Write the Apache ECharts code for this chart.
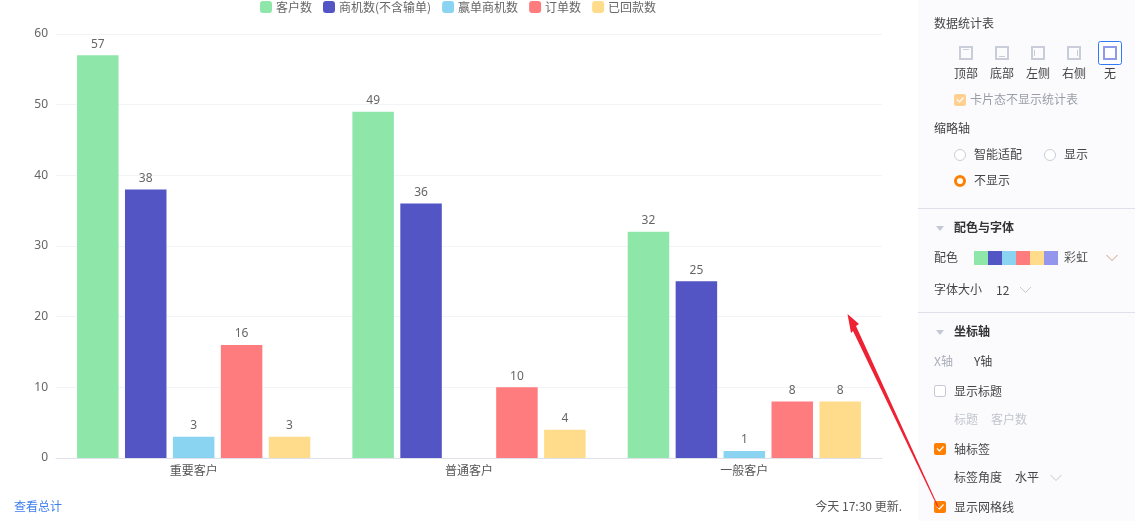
<!DOCTYPE html>
<html><head><meta charset="utf-8">
<style>html,body{margin:0;padding:0;background:#fff}#c{width:1135px;height:521px}</style>
<script src="https://cdn.jsdelivr.net/npm/echarts@6/dist/echarts.min.js"></script>
</head><body><div id="c"></div>
<script>
const categories = ['重要客户','普通客户','一般客户'];
const seriesNames = ['客户数','商机数(不含输单)','赢单商机数','订单数','已回款数'];
const customers = [57,49,32];
const opportunities = [38,36,25];
const wonOpportunities = [3,null,1];
const orders = [16,10,8];
const paidOrders = [3,4,8];
const seriesColors = ['#8EE6A8','#5355C5','#8AD4F2','#FF7C7E','#FFDC8C'];
const paletteColors = ['#8EE6A8','#5355C5','#8AD4F2','#FF7C7E','#FFDC8C','#9495EC'];
const yMax = 60, yInterval = 10;

const FONT = '"Noto Sans CJK SC","Noto Sans",sans-serif';
const allValues = [customers,opportunities,wonOpportunities,orders,paidOrders];
const g = [];
const t = (x,y,text,color,opt={}) => g.push({type:'text',x,y,silent:true,z:5,style:Object.assign({text,fill:color||'#555',font:`${opt.weight||'normal'} ${opt.size||12}px ${FONT}`,align:opt.align||'left',verticalAlign:'middle'})});
const r = (x,y,w,h,fill,stroke,rad,lw) => g.push({type:'rect',silent:true,z:4,shape:{x,y,width:w,height:h,r:rad||0},style:{fill:fill||'transparent',stroke:stroke||null,lineWidth:lw||1}});
const line = (pts,color,lw) => g.push({type:'polyline',silent:true,z:5,shape:{points:pts},style:{stroke:color,lineWidth:lw||1,fill:null}});
const circle = (x,y,rr,fill,stroke,lw) => g.push({type:'circle',silent:true,z:5,shape:{cx:x,cy:y,r:rr},style:{fill,stroke,lineWidth:lw||1}});
const chevron = (x,y,c) => line([[x-5.5,y-3],[x,y+2.5],[x+5.5,y-3]],c||'#c4c8d4',1);
const tri = (x,y) => g.push({type:'polygon',silent:true,z:5,shape:{points:[[x-4,y-2],[x+4,y-2],[x,y+3]]},style:{fill:'#c4c8d4'}});
const check = (x,y,on,disabled) => {
  if(on){ r(x,y,12,12,disabled?'#FFD08F':'#FF8000',null,2);
    line([[x+3,y+5.5],[x+5.5,y+8],[x+9.5,y+3.5]],'#fff',1.2);
  } else r(x+.5,y+.5,11,11,'#fff','#c4c8d4',2);
};
// side panel
r(918,0,217,521,'#FBFBFD');
line([[918,208.5],[1135,208.5]],'#DFE1EA');
line([[918,312.5],[1135,312.5]],'#DFE1EA');
t(934,23,'数据统计表','#444');
const pos = [['顶部',966],['底部',1002],['左侧',1038],['右侧',1074],['无',1110]];
pos.forEach(([s,x],i)=>{
  if(i===4) r(1098.5,41.5,23,23,'#fff','#2F7BF5',2);
  r(x-6,47,12,12,i===4?'#fff':'#FBFBFD',i===4?'#8D9BEA':'#C8CDD9',0,2);
  if(i===0) line([[x-3,49.5],[x+3,49.5]],'#C8CDD9');
  if(i===1) line([[x-3,56.5],[x+3,56.5]],'#C8CDD9');
  if(i===2) line([[x-3.5,50],[x-3.5,56]],'#C8CDD9');
  if(i===3) line([[x+3.5,50],[x+3.5,56]],'#C8CDD9');
  t(x,73,s,'#444',{align:'center'});
});
check(954,94,true,true);
t(970,99.5,'卡片态不显示统计表','#9A9EA8');
t(934,128,'缩略轴','#444');
circle(960,155,5.5,'#fff','#C8CDD9');
t(974,154.5,'智能适配','#444');
circle(1050,155,5.5,'#fff','#C8CDD9');
t(1064,154.5,'显示','#444');
circle(960,181,4.5,'#fff','#FF8000',3);
t(974,180.5,'不显示','#444');
tri(940,228);
t(954,227.5,'配色与字体','#333',{weight:'bold'});
t(934,257.5,'配色','#444');
paletteColors.forEach((c,i)=>r(974+i*14,251,14,14,c));
t(1064,257.5,'彩虹','#555');
chevron(1112,258,'#C9A080');
t(934,289.5,'字体大小','#444');
t(996,290,'12','#444');
chevron(1025.5,290);
tri(940,332);
t(954,331.5,'坐标轴','#333',{weight:'bold'});
t(934,361.5,'X轴','#A9ADB8');
t(974,361.5,'Y轴','#444');
check(934,385,false);
t(954,391.5,'显示标题','#444');
t(954,419.5,'标题','#C2C5CE');
t(991,419.5,'客户数','#C2C5CE');
check(934,443,true);
t(954,449.5,'轴标签','#444');
t(954,477.5,'标签角度','#444');
t(1015,477.5,'水平','#444');
chevron(1056,478);
check(934,501,true);
t(954,507.5,'显示网格线','#444');
// footer
t(14,506.5,'查看总计','#3F7FEF');
t(902,506.5,'今天 17:30 更新.','#555',{align:'right'});
// arrow
g.push({type:'polygon',silent:true,z:10,shape:{points:[[939,508],[938,508],[853,331],[851,333],[847.5,314],[859,324],[856,326]]},style:{fill:'#EE2233'}});

const chart = echarts.init(document.getElementById('c'),null,{renderer:'canvas'});
chart.setOption({
  animation:false,
  textStyle:{fontFamily:FONT},
  legend:{top:-4,left:255,itemWidth:12,itemHeight:12,itemGap:11,icon:'roundRect',
    textStyle:{color:'#666',fontSize:12,fontFamily:FONT,padding:[0,0,0,-1]},data:seriesNames},
  grid:{left:56,right:253,top:34,bottom:63,containLabel:false},
  xAxis:{type:'category',data:categories,axisTick:{show:false},
    axisLine:{lineStyle:{color:'#DFE1EA'}},
    axisLabel:{color:'#555',fontSize:12,margin:6,fontFamily:FONT}},
  yAxis:{type:'value',min:0,max:yMax,interval:yInterval,axisLine:{show:false},axisTick:{show:false},
    axisLabel:{color:'#666',fontSize:12,margin:8,fontFamily:'"Noto Sans",sans-serif'},
    splitLine:{lineStyle:{color:'#F3F4F7'}}},
  series:seriesNames.map((name,i)=>({
    name,type:'bar',data:allValues[i],barWidth:41.5,barGap:'15.5%',
    itemStyle:{color:seriesColors[i]},
    label:{show:true,position:'top',distance:5,color:'#666',fontSize:12,fontFamily:'"Noto Sans",sans-serif'}
  })),
  graphic:{elements:g}
});
</script></body></html>
